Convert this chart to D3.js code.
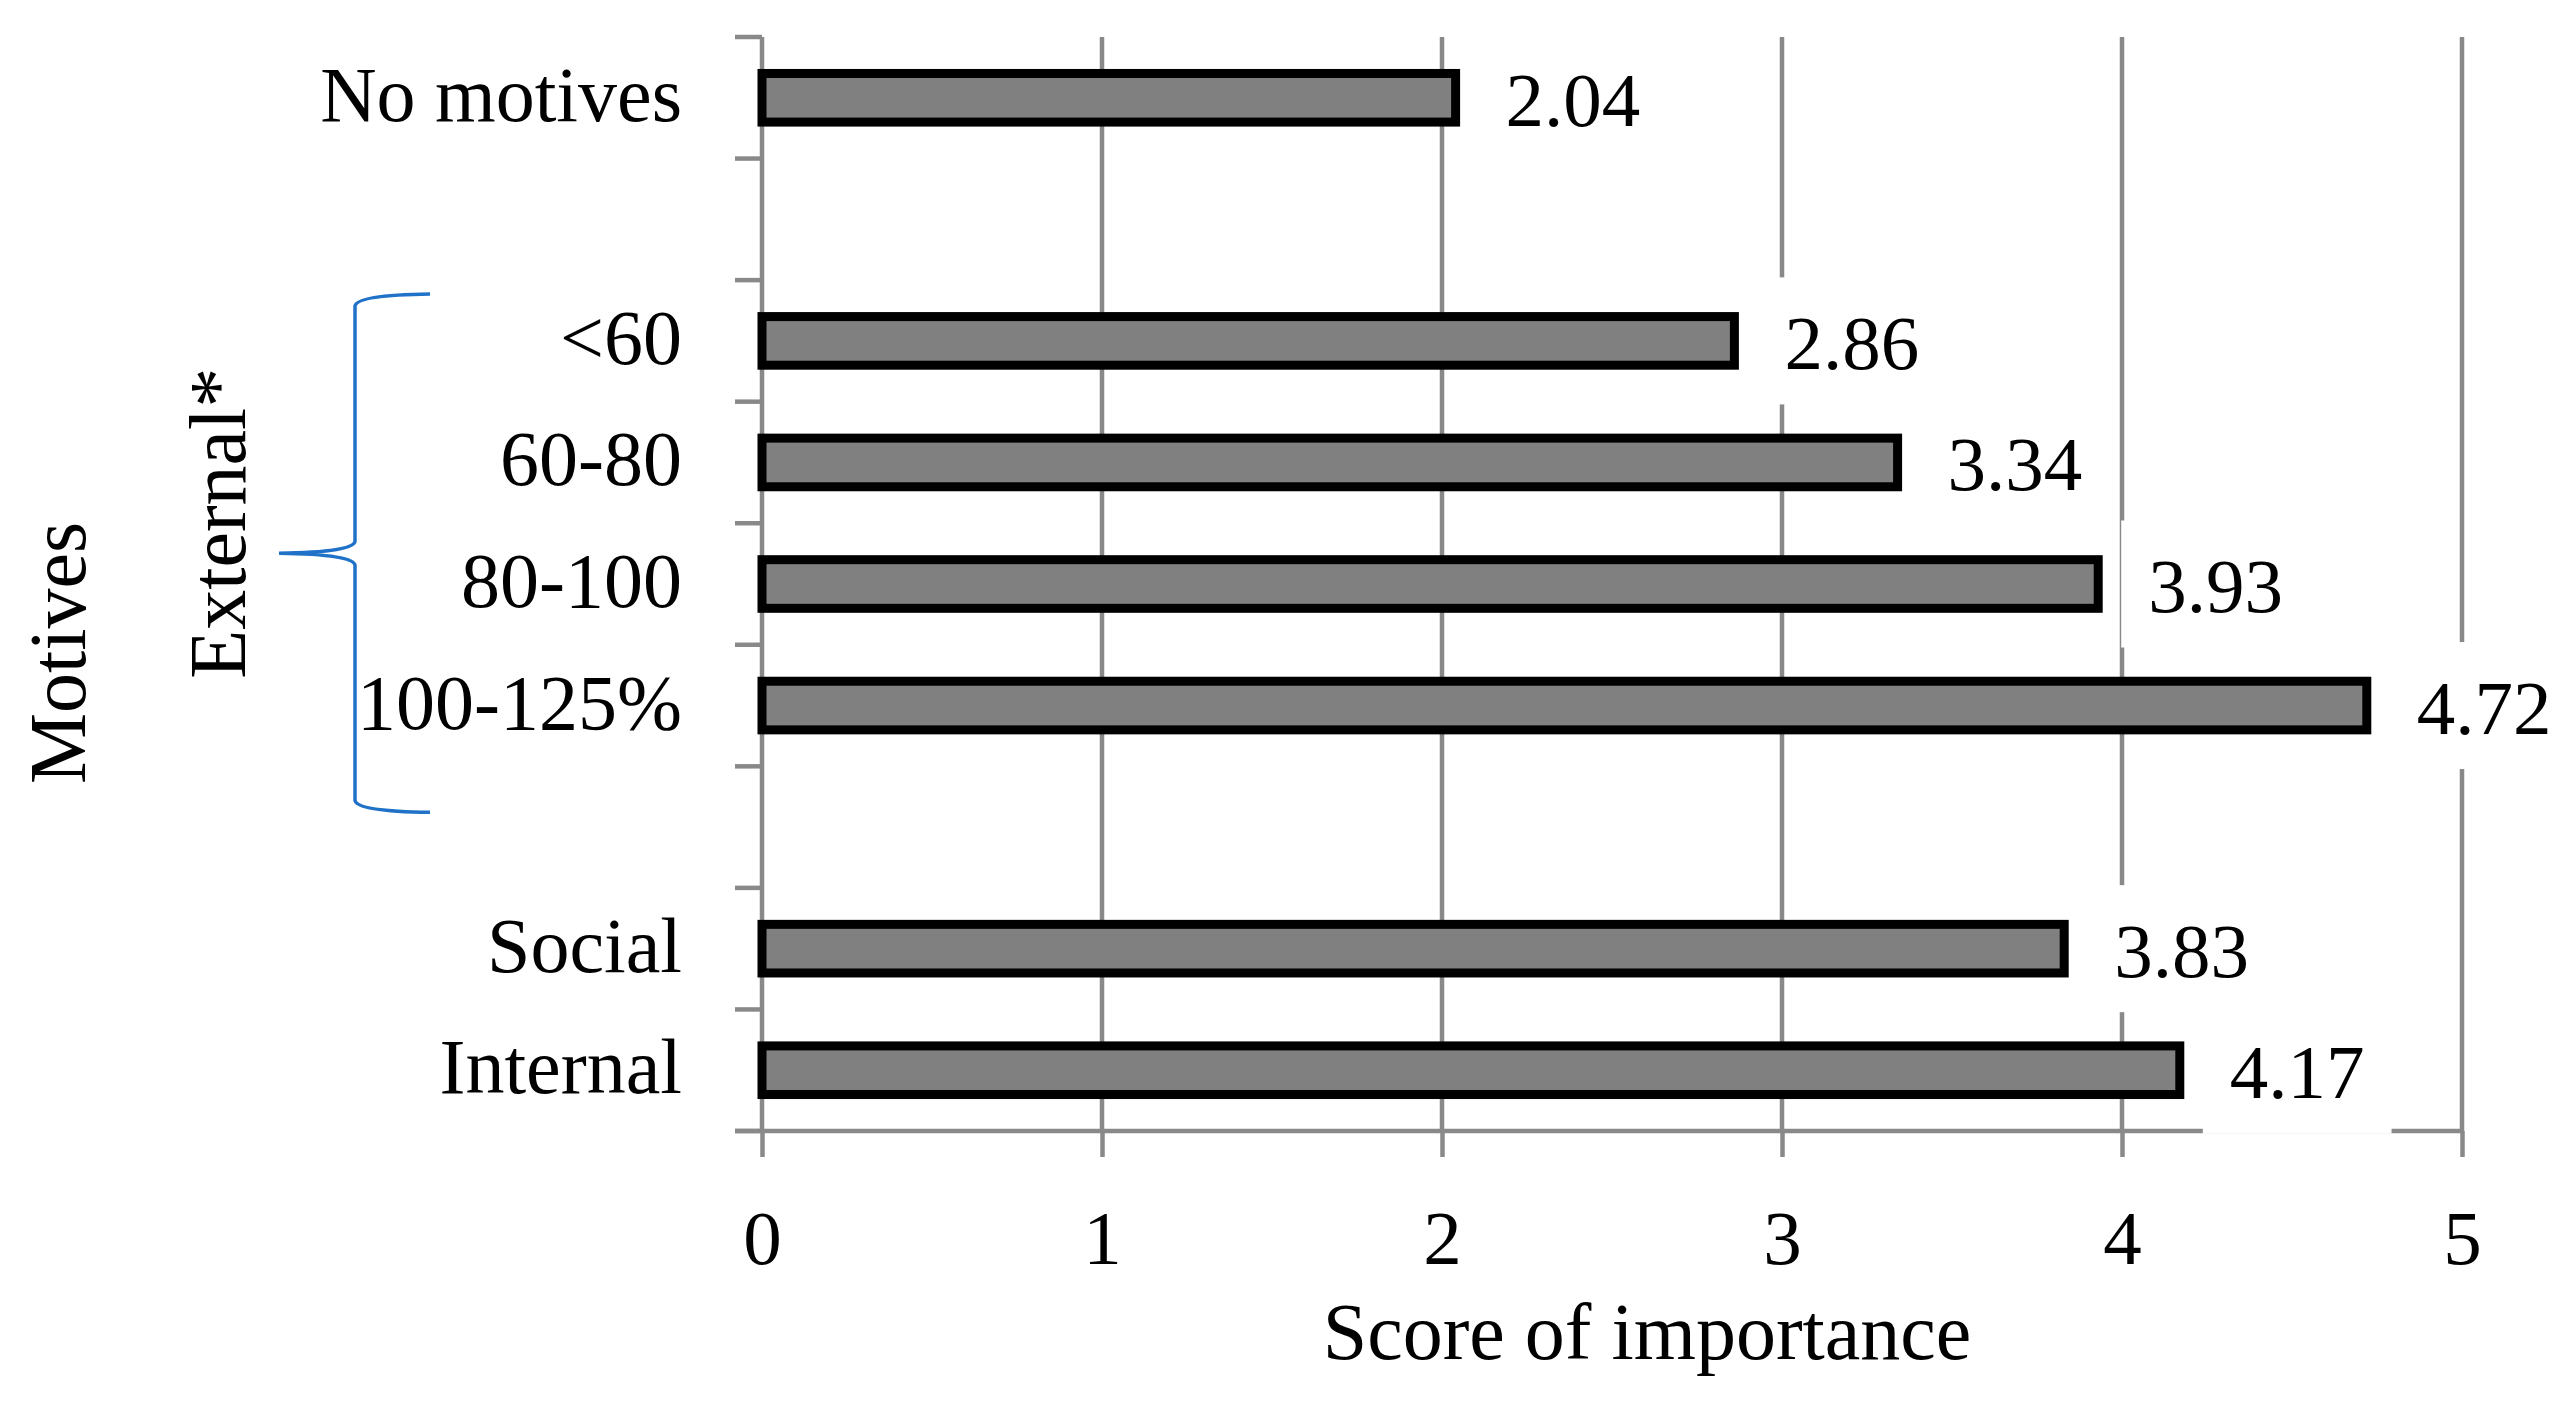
<!DOCTYPE html>
<html>
<head>
<meta charset="utf-8">
<script src="https://cdn.jsdelivr.net/npm/d3@7"></script>
<style>
  html, body { margin: 0; padding: 0; background: #fff; }
  svg { display: block; }
  text { font-family: "Liberation Serif", "Times New Roman", serif; fill: #000; }
</style>
</head>
<body>
<svg id="chart" width="2572" height="1404"></svg>
<script>
// ---- data ----
const categories = ["No motives", "", "<60", "60-80", "80-100", "100-125%", "", "Social", "Internal"];
const values = [2.04, null, 2.86, 3.34, 3.93, 4.72, null, 3.83, 4.17];
const xTicks = [0, 1, 2, 3, 4, 5];
const xTitle = "Score of importance";
const yTitle = "Motives";
const groupLabel = "External*";
const groupMembers = ["<60", "60-80", "80-100", "100-125%"];

// ---- layout ----
const pLeft = 762, pRight = 2462, pTop = 37, pBottom = 1131;
const gridColor = "#898989";

const svg = d3.select("#chart");

const x = d3.scaleLinear().domain([0, 5]).range([pLeft, pRight]);
const y = d3.scaleBand()
  .domain(d3.range(categories.length))
  .range([pTop, pBottom])
  .paddingInner(0.6)
  .paddingOuter(0.3);
const step = y.step();
const center = i => y(i) + y.bandwidth() / 2;

// gridlines
svg.append("g").selectAll("line")
  .data(xTicks.slice(1))
  .join("line")
  .attr("x1", d => x(d)).attr("x2", d => x(d))
  .attr("y1", pTop).attr("y2", pBottom)
  .attr("stroke", gridColor).attr("stroke-width", 4.5);

// y axis line + ticks at band boundaries
const yAxis = svg.append("g");
yAxis.append("line")
  .attr("x1", x(0)).attr("x2", x(0))
  .attr("y1", pTop).attr("y2", pBottom)
  .attr("stroke", gridColor).attr("stroke-width", 4.5);
yAxis.selectAll("line.tick")
  .data(d3.range(categories.length + 1))
  .join("line").attr("class", "tick")
  .attr("x1", x(0) - 27).attr("x2", x(0))
  .attr("y1", i => pTop + i * step).attr("y2", i => pTop + i * step)
  .attr("stroke", gridColor).attr("stroke-width", 4.5);

// x axis
svg.append("line")
  .attr("x1", x(0) - 27).attr("x2", x(5))
  .attr("y1", pBottom).attr("y2", pBottom)
  .attr("stroke", gridColor).attr("stroke-width", 4.5);
const xAxis = svg.append("g")
  .attr("transform", `translate(0,${pBottom})`)
  .call(d3.axisBottom(x).tickValues(xTicks).tickFormat(d3.format("d")).tickSizeInner(26).tickSizeOuter(0));
xAxis.select(".domain").remove();
xAxis.selectAll(".tick line").attr("stroke", gridColor).attr("stroke-width", 4.5);
xAxis.selectAll(".tick text")
  .attr("y", 133).attr("dy", null)
  .attr("font-size", 77)
  .attr("font-family", "Liberation Serif")
  .attr("fill", "#000");

// data label backgrounds & labels
const barData = categories.map((c, i) => ({ c, i, v: values[i] })).filter(d => d.v != null);

const labelG = svg.append("g");
const labels = labelG.selectAll("g")
  .data(barData)
  .join("g");
labels.append("rect").attr("fill", "#fff");
labels.append("text")
  .attr("x", d => x(d.v) + 50)
  .attr("y", d => center(d.i) + 28)
  .attr("font-size", 77)
  .text(d => d.v.toFixed(2));
labels.each(function(d) {
  const g = d3.select(this);
  const bb = g.select("text").node().getBBox();
  g.select("rect")
    .attr("x", bb.x - 27)
    .attr("width", bb.width + 54)
    .attr("y", center(d.i) - 63.5)
    .attr("height", 127);
});

// bars
svg.append("g").selectAll("rect")
  .data(barData)
  .join("rect")
  .attr("x", x(0))
  .attr("y", d => y(d.i))
  .attr("width", d => x(d.v) - x(0))
  .attr("height", y.bandwidth())
  .attr("fill", "#808080")
  .attr("stroke", "#000")
  .attr("stroke-width", 9);

labelG.raise();

// category labels
svg.append("g").selectAll("text")
  .data(categories.map((c, i) => ({ c, i })).filter(d => d.c !== ""))
  .join("text")
  .attr("x", 682)
  .attr("y", d => center(d.i) + 23)
  .attr("text-anchor", "end")
  .attr("font-size", 78)
  .text(d => d.c);

// axis title
svg.append("text")
  .attr("x", 1647).attr("y", 1359)
  .attr("text-anchor", "middle")
  .attr("font-size", 80)
  .text(xTitle);

// y title
svg.append("text")
  .attr("transform", "translate(85,653) rotate(-90)")
  .attr("text-anchor", "middle")
  .attr("font-size", 80)
  .text(yTitle);

// group brace for External*
const gIdx = groupMembers.map(m => categories.indexOf(m));
const gTop = pTop + d3.min(gIdx) * step + 14;
const gBot = pTop + (d3.max(gIdx) + 1) * step + 46;
const gMid = (gTop + gBot) / 2;
const bx = 355, ex = 430, px = 279;
const brace = d3.path();
brace.moveTo(ex, gTop);
brace.quadraticCurveTo(bx + 2, gTop + 1, bx, gTop + 12);
brace.lineTo(bx, gMid - 12);
brace.quadraticCurveTo(bx - 1, gMid - 1, px, gMid);
brace.quadraticCurveTo(bx - 1, gMid + 1, bx, gMid + 12);
brace.lineTo(bx, gBot - 12);
brace.quadraticCurveTo(bx + 2, gBot - 1, ex, gBot);
svg.append("path")
  .attr("d", brace.toString())
  .attr("fill", "none")
  .attr("stroke", "#1f72c8")
  .attr("stroke-width", 3.5);

svg.append("text")
  .attr("transform", `translate(245,${gMid - 30}) rotate(-90)`)
  .attr("text-anchor", "middle")
  .attr("font-size", 80)
  .text(groupLabel);
</script>
</body>
</html>
